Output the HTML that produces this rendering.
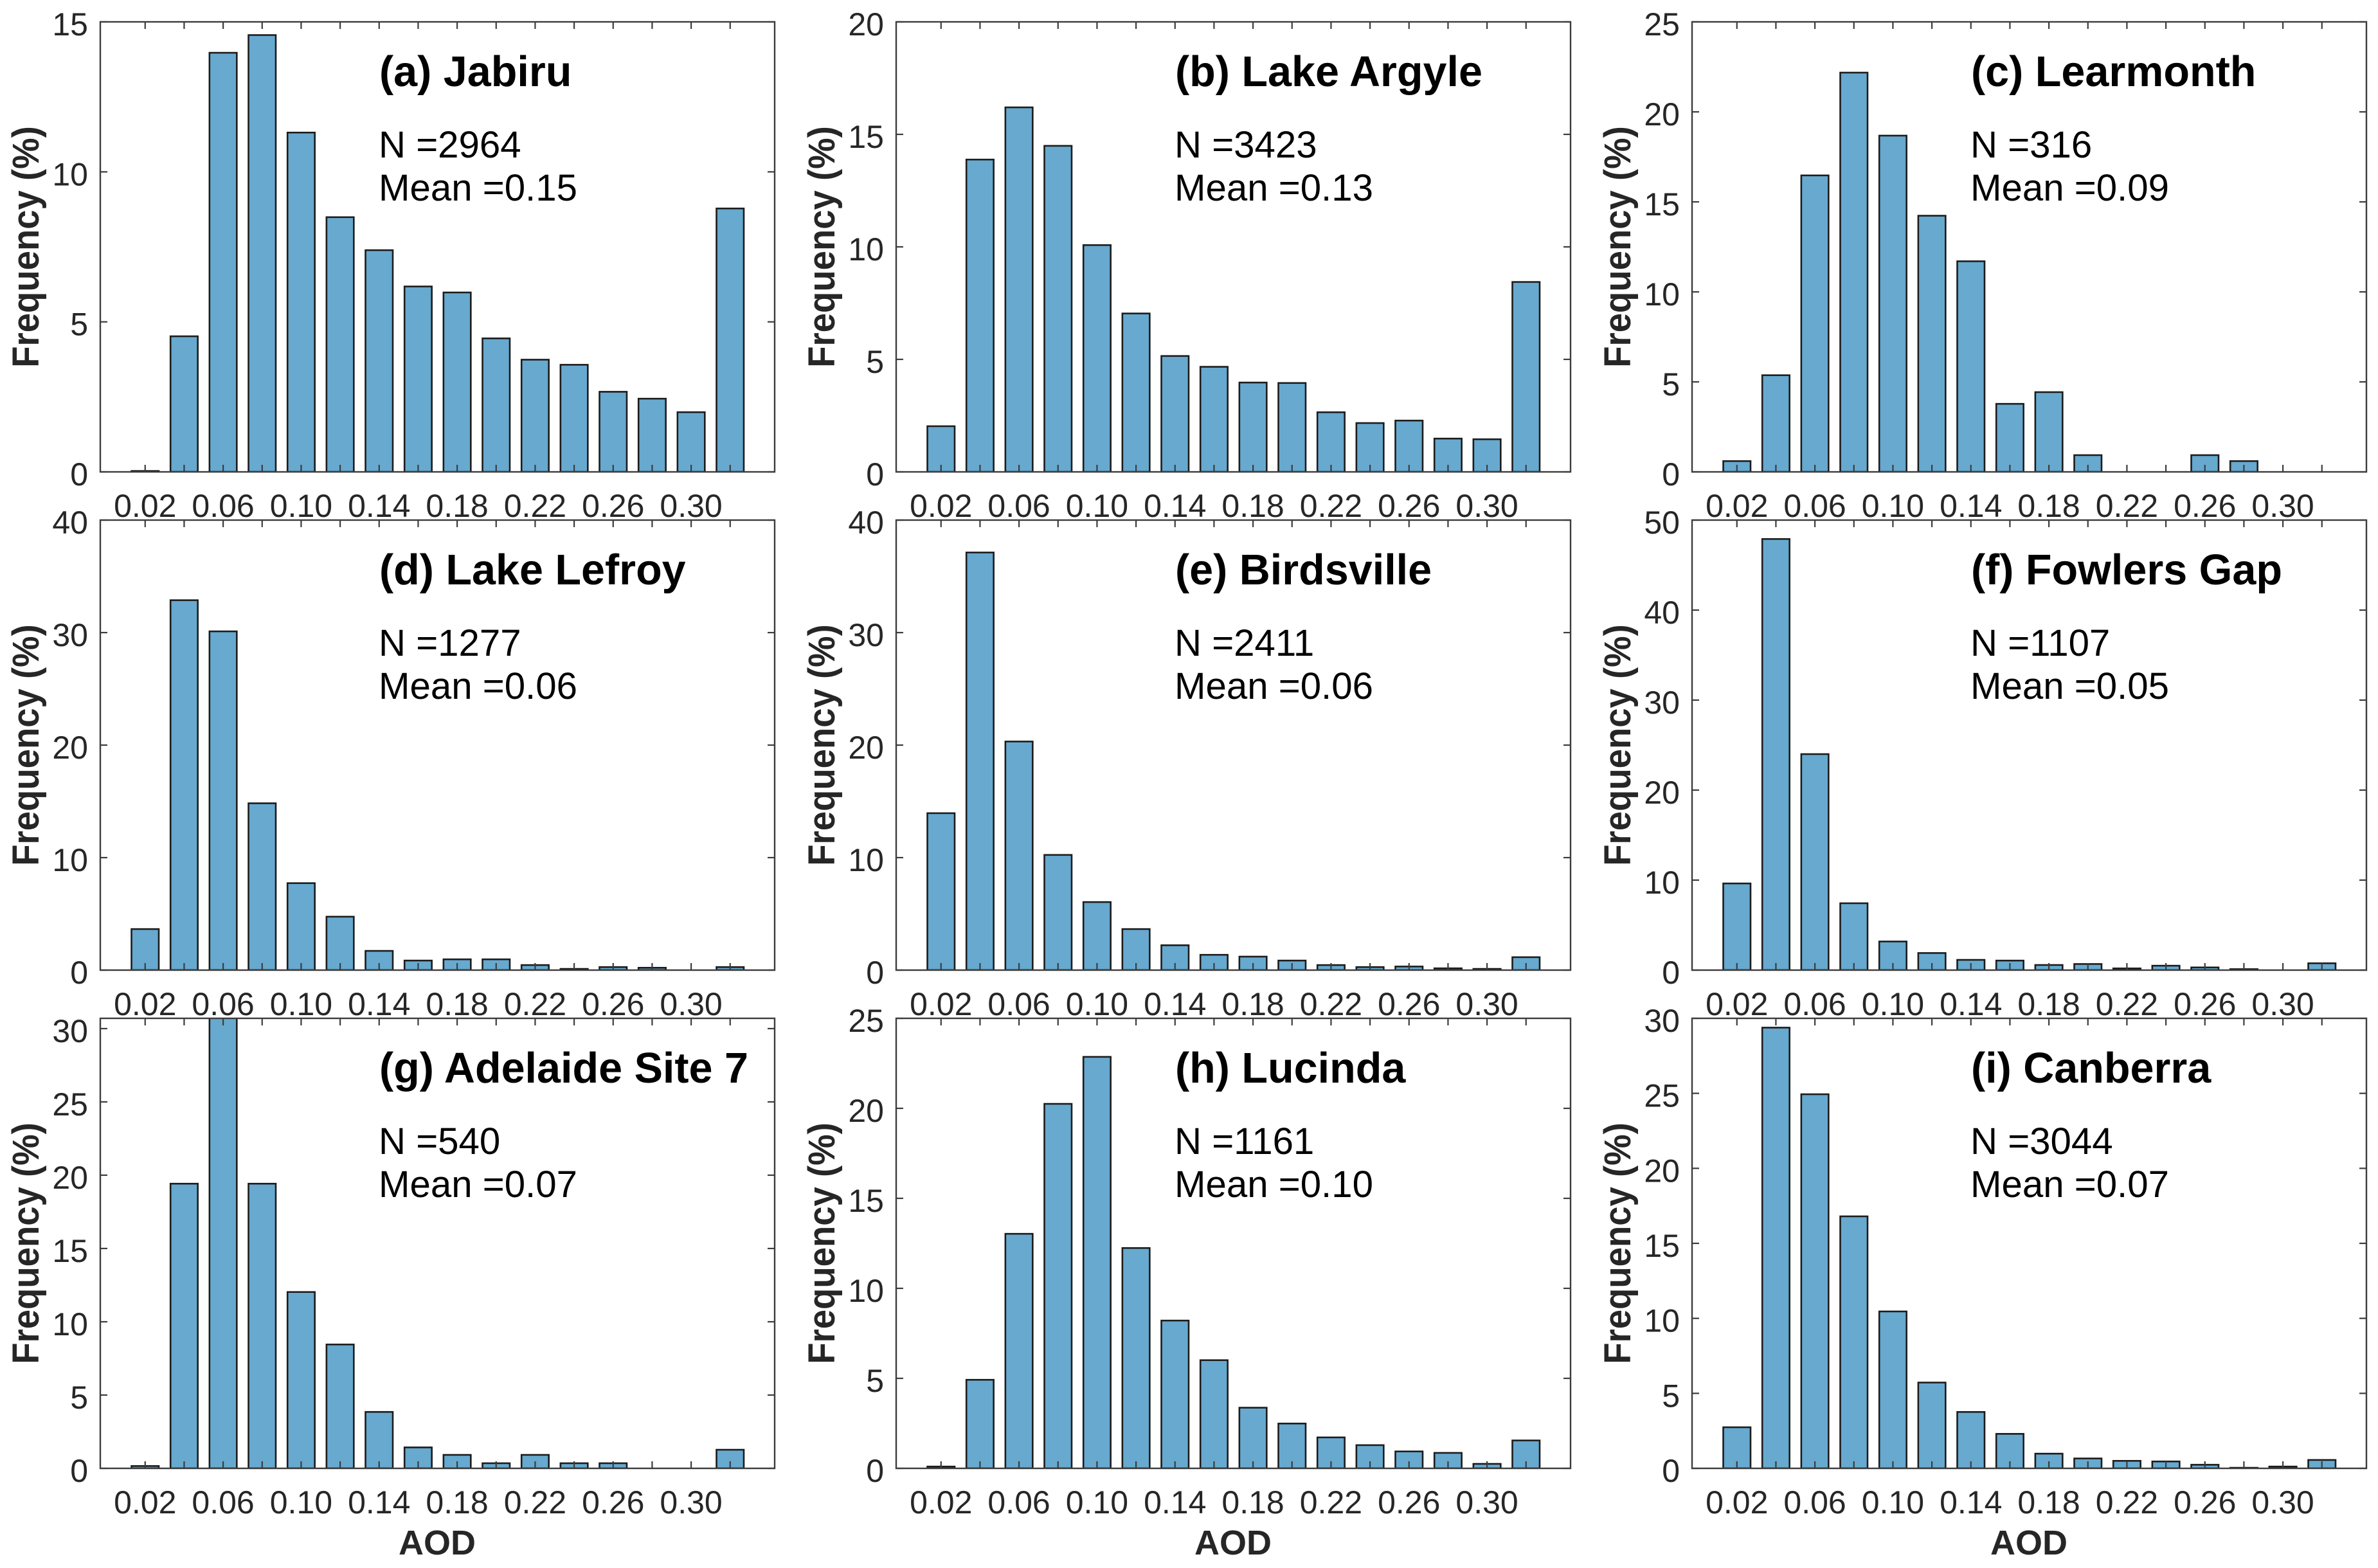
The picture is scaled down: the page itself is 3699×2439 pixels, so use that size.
<!DOCTYPE html>
<html lang="en">
<head>
<meta charset="utf-8">
<title>AOD frequency histograms</title>
<style>
html,body{margin:0;padding:0;background:#fff;}
svg{display:block;font-family:"Liberation Sans",Arial,sans-serif;}
.title{font-size:66.5px;font-weight:700;fill:#000;}
.stat{font-size:58.2px;fill:#000;}
.ylab{font-size:58px;font-weight:700;fill:#262626;text-anchor:middle;}
.xlab{font-size:54px;font-weight:700;fill:#262626;text-anchor:middle;}
.tick-text{font-size:50px;fill:#262626;}
</style>
</head>
<body>
<svg id="figure" xmlns="http://www.w3.org/2000/svg" width="3699" height="2439" viewBox="0 0 3699 2439">
<rect width="3699" height="2439" fill="#fff"/>
<defs><clipPath id="plot-clip"><rect x="0" y="0" width="1049" height="700"/></clipPath></defs>

<g transform="translate(156,34)">
<g class="marks"></g>
<text class="title" x="434" y="100">(a) Jabiru</text>
<text class="stat" x="433" y="211">N =2964</text>
<text class="stat" x="433" y="278">Mean =0.15</text>
<text class="ylab" transform="translate(-96,350) rotate(-90) scale(0.94,1)">Frequency (%)</text>
</g>

<g transform="translate(1394,34)">
<g class="marks"></g>
<text class="title" x="434" y="100">(b) Lake Argyle</text>
<text class="stat" x="433" y="211">N =3423</text>
<text class="stat" x="433" y="278">Mean =0.13</text>
<text class="ylab" transform="translate(-96,350) rotate(-90) scale(0.94,1)">Frequency (%)</text>
</g>

<g transform="translate(2632,34)">
<g class="marks"></g>
<text class="title" x="434" y="100">(c) Learmonth</text>
<text class="stat" x="433" y="211">N =316</text>
<text class="stat" x="433" y="278">Mean =0.09</text>
<text class="ylab" transform="translate(-96,350) rotate(-90) scale(0.94,1)">Frequency (%)</text>
</g>

<g transform="translate(156,809)">
<g class="marks"></g>
<text class="title" x="434" y="100">(d) Lake Lefroy</text>
<text class="stat" x="433" y="211">N =1277</text>
<text class="stat" x="433" y="278">Mean =0.06</text>
<text class="ylab" transform="translate(-96,350) rotate(-90) scale(0.94,1)">Frequency (%)</text>
</g>

<g transform="translate(1394,809)">
<g class="marks"></g>
<text class="title" x="434" y="100">(e) Birdsville</text>
<text class="stat" x="433" y="211">N =2411</text>
<text class="stat" x="433" y="278">Mean =0.06</text>
<text class="ylab" transform="translate(-96,350) rotate(-90) scale(0.94,1)">Frequency (%)</text>
</g>

<g transform="translate(2632,809)">
<g class="marks"></g>
<text class="title" x="434" y="100">(f) Fowlers Gap</text>
<text class="stat" x="433" y="211">N =1107</text>
<text class="stat" x="433" y="278">Mean =0.05</text>
<text class="ylab" transform="translate(-96,350) rotate(-90) scale(0.94,1)">Frequency (%)</text>
</g>

<g transform="translate(156,1584)">
<g class="marks"></g>
<text class="title" x="434" y="100">(g) Adelaide Site 7</text>
<text class="stat" x="433" y="211">N =540</text>
<text class="stat" x="433" y="278">Mean =0.07</text>
<text class="ylab" transform="translate(-96,350) rotate(-90) scale(0.94,1)">Frequency (%)</text>
<text class="xlab" x="524" y="834">AOD</text>
</g>

<g transform="translate(1394,1584)">
<g class="marks"></g>
<text class="title" x="434" y="100">(h) Lucinda</text>
<text class="stat" x="433" y="211">N =1161</text>
<text class="stat" x="433" y="278">Mean =0.10</text>
<text class="ylab" transform="translate(-96,350) rotate(-90) scale(0.94,1)">Frequency (%)</text>
<text class="xlab" x="524" y="834">AOD</text>
</g>

<g transform="translate(2632,1584)">
<g class="marks"></g>
<text class="title" x="434" y="100">(i) Canberra</text>
<text class="stat" x="433" y="211">N =3044</text>
<text class="stat" x="433" y="278">Mean =0.07</text>
<text class="ylab" transform="translate(-96,350) rotate(-90) scale(0.94,1)">Frequency (%)</text>
<text class="xlab" x="524" y="834">AOD</text>
</g>
</svg>

<script>
var binCenters = [0.02,0.04,0.06,0.08,0.10,0.12,0.14,0.16,0.18,0.20,0.22,0.24,0.26,0.28,0.30,0.32];
var xTickLabels = ["0.02","","0.06","","0.10","","0.14","","0.18","","0.22","","0.26","","0.30",""];

var jabiruValues = [0.03,4.52,13.97,14.56,11.31,8.49,7.39,6.18,5.98,4.45,3.74,3.57,2.67,2.44,1.99,8.78];
var lakeArgyleValues = [2.03,13.88,16.2,14.49,10.08,7.04,5.15,4.67,3.97,3.95,2.65,2.17,2.28,1.48,1.45,8.44];
var learmonthValues = [0.6,5.37,16.47,22.18,18.68,14.23,11.7,3.78,4.43,0.93,0,0,0.93,0.6,0,0];
var lakeLefroyValues = [3.65,32.88,30.11,14.83,7.73,4.75,1.71,0.85,0.96,0.96,0.45,0.11,0.27,0.21,0,0.27];
var birdsvilleValues = [13.95,37.12,20.32,10.24,6.05,3.65,2.21,1.36,1.2,0.85,0.45,0.27,0.32,0.16,0.11,1.15];
var fowlersGapValues = [9.63,47.9,24.0,7.43,3.18,1.9,1.14,1.06,0.57,0.68,0.19,0.49,0.3,0.11,0,0.76];
var adelaideValues = [0.16,19.42,31.5,19.42,12.03,8.45,3.85,1.43,0.92,0.35,0.92,0.35,0.35,0,0,1.27];
var lucindaValues = [0.1,4.92,13.03,20.25,22.86,12.24,8.21,6.01,3.37,2.49,1.72,1.29,0.94,0.86,0.25,1.55];
var canberraValues = [2.74,29.38,24.94,16.8,10.46,5.72,3.76,2.3,0.98,0.66,0.5,0.46,0.24,0.04,0.12,0.56];

var yTicks15 = [0,5,10,15];
var yTicks20 = [0,5,10,15,20];
var yTicks25 = [0,5,10,15,20,25];
var yTicks30 = [0,5,10,15,20,25,30];
var yTicks40 = [0,10,20,30,40];
var yTicks50 = [0,10,20,30,40,50];

var panelSeries = [jabiruValues,lakeArgyleValues,learmonthValues,lakeLefroyValues,birdsvilleValues,fowlersGapValues,adelaideValues,lucindaValues,canberraValues];
var panelYMax = [15,20,25,40,40,50,30.7,25,30];
var panelYTicks = [yTicks15,yTicks20,yTicks25,yTicks40,yTicks40,yTicks50,yTicks30,yTicks25,yTicks30];

var SVGNS = "http://www.w3.org/2000/svg";
var plotW = 1049, plotH = 700, tickLen = 11;
var xMin = -0.003, xMax = 0.34283, barFraction = 0.7, binWidth = 0.02;

function xScale(v){ return (v - xMin) / (xMax - xMin) * plotW; }
function make(tag, attrs, parent){
  var el = document.createElementNS(SVGNS, tag);
  for (var k in attrs) el.setAttribute(k, attrs[k]);
  parent.appendChild(el);
  return el;
}

var markGroups = document.querySelectorAll("g.marks");
panelSeries.forEach(function(values, p){
  var root = markGroups[p];
  var yMax = panelYMax[p];
  function yScale(v){ return plotH - v / yMax * plotH; }

  var bars = make("g", {"clip-path":"url(#plot-clip)"}, root);
  
  
  values.forEach(function(v, i){
    var x0 = xScale(binCenters[i] - binWidth * barFraction / 2);
    var x1 = xScale(binCenters[i] + binWidth * barFraction / 2);
    var y = yScale(v);
    var bar = make("rect", {x:x0, y:y, width:x1 - x0, height:plotH - y, fill:"#67a9cf", stroke:"#1c1c1c", "stroke-width":2.6}, bars);
    
    
  });

  var frame = make("rect", {x:0, y:0, width:plotW, height:plotH, fill:"none", stroke:"#3c3c3c", "stroke-width":2.4}, root);
  
  

  binCenters.forEach(function(c, i){
    var x = xScale(c);
    var bottomTick = make("line", {x1:x, x2:x, y1:plotH, y2:plotH - tickLen, stroke:"#3c3c3c", "stroke-width":2.2}, root);
    
    
    var topTick = make("line", {x1:x, x2:x, y1:0, y2:tickLen, stroke:"#3c3c3c", "stroke-width":2.2}, root);
    
    
    if (xTickLabels[i]) {
      var xLabel = make("text", {x:x, y:plotH + 70, "text-anchor":"middle", "class":"tick-text"}, root);
      
      
      xLabel.textContent = xTickLabels[i];
    }
  });

  panelYTicks[p].forEach(function(t){
    var y = yScale(t);
    var leftTick = make("line", {x1:0, x2:tickLen, y1:y, y2:y, stroke:"#3c3c3c", "stroke-width":2.2}, root);
    
    
    var rightTick = make("line", {x1:plotW, x2:plotW - tickLen, y1:y, y2:y, stroke:"#3c3c3c", "stroke-width":2.2}, root);
    
    
    var yLabel = make("text", {x:-19, y:y + 21, "text-anchor":"end", "class":"tick-text"}, root);
    
    
    yLabel.textContent = String(t);
  });
});
</script>
</body>
</html>
